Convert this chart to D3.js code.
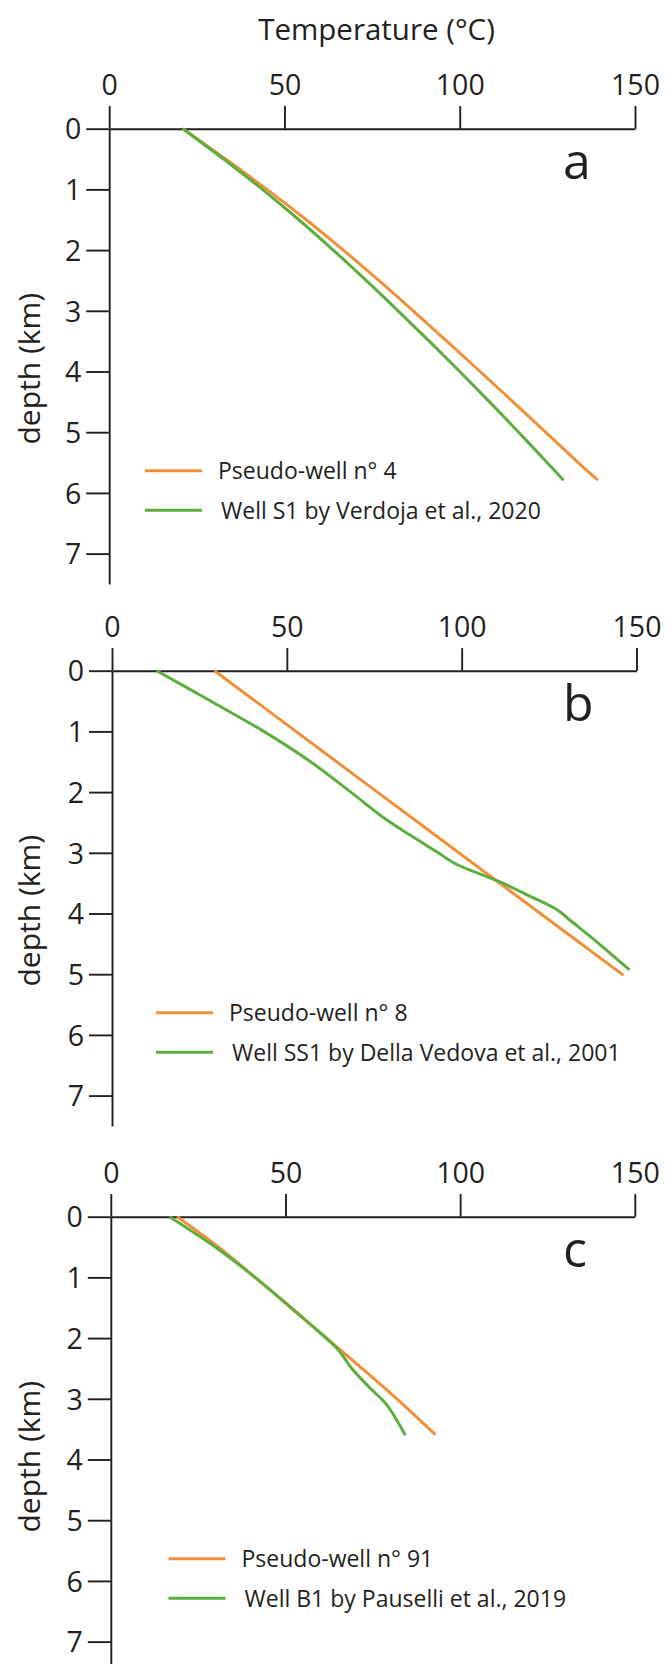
<!DOCTYPE html>
<html>
<head>
<meta charset="utf-8">
<script src="https://cdn.jsdelivr.net/npm/d3@7"></script>
<style>
  html, body { margin: 0; padding: 0; background: #fff; }
  svg { display: block; }
  text { font-family: "Open Sans", "Noto Sans", sans-serif; fill: #231f20; }
</style>
</head>
<body>
<svg id="chart" width="666" height="1664"></svg>
<script>
// ---- data: [depth (km), temperature (°C)] ----
const tempTicks = [0, 50, 100, 150];
const depthTicks = [0, 1, 2, 3, 4, 5, 6, 7];

const pseudoWell4 = [[0,21],[0.5,33.2],[1,45],[1.5,56.2],[2,66.8],[2.5,76.9],[3,86.7],[3.5,96.3],[4,105.8],[4.5,115.2],[5,124.5],[5.5,133.8],[5.79,139.4]];
const wellS1 = [[0,21],[0.5,32.6],[1,43.7],[1.5,54.1],[2,63.9],[2.5,73.3],[3,82.4],[3.5,91.3],[4,100],[4.5,108.5],[5,116.8],[5.5,124.9],[5.79,129.6]];

const pseudoWell8 = [[0,29.3],[1,52.6],[2,75.9],[3,99.2],[4,122.5],[5.02,146.3]];
const wellSS1 = [[0,12.8],[0.5,28.2],[1,43.4],[1.5,56.8],[2,68.3],[2.41,77.4],[2.7,85],[3,93.3],[3.18,98.2],[3.48,111],[3.7,119],[3.95,127.6],[4.12,131.2],[4.5,139.3],[4.93,148]];

const pseudoWell91 = [[0,19],[0.5,30.8],[1,41.3],[1.5,51.6],[2,61.8],[2.5,71.9],[3,81.9],[3.59,92.9]];
const wellB1 = [[0,16.8],[0.5,29.9],[1,41.3],[1.5,51.6],[2,61.6],[2.2,65.2],[2.5,69],[2.8,73.8],[3.1,79],[3.6,84.3]];

const labelsA = ["Pseudo-well n° 4", "Well S1 by Verdoja et al., 2020"];
const labelsB = ["Pseudo-well n° 8", "Well SS1 by Della Vedova et al., 2001"];
const labelsC = ["Pseudo-well n° 91", "Well B1 by Pauselli et al., 2019"];

// ---- styles / layout ----
const ORANGE = "#F0913A";
const GREEN = "#5DAE3F";
const INK = "#231f20";

const panels = [
  { letter: "a", x0: 109.2, x1: 635.0, y0: 128.7, legendX: 145, series: [pseudoWell4, wellS1], labels: labelsA },
  { letter: "b", x0: 112.0, x1: 636.5, y0: 670.7, legendX: 156, series: [pseudoWell8, wellSS1], labels: labelsB },
  { letter: "c", x0: 110.8, x1: 634.8, y0: 1216.7, legendX: 168.5, series: [pseudoWell91, wellB1], labels: labelsC }
];
const colors = [ORANGE, GREEN];
const pxPerKm = 60.7;

const svg = d3.select("#chart");

svg.append("text")
  .attr("x", 376.5).attr("y", 40)
  .attr("text-anchor", "middle")
  .style("font-size", "29.5px")
  .text("Temperature (°C)");

panels.forEach(p => {
  const x = d3.scaleLinear().domain([0, 150]).range([p.x0, p.x1]);
  const y = d3.scaleLinear().domain([0, 7.5]).range([p.y0, p.y0 + 7.5 * pxPerKm]);
  const g = svg.append("g");

  // x axis (top)
  const xa = g.append("g").attr("transform", `translate(0,${p.y0})`)
    .call(d3.axisTop(x).tickValues(tempTicks).tickFormat(d3.format("d"))
      .tickSize(22.6).tickSizeOuter(0).tickPadding(11.5));
  // y axis (left)
  const ya = g.append("g").attr("transform", `translate(${p.x0},0)`)
    .call(d3.axisLeft(y).tickValues(depthTicks).tickFormat(d3.format("d"))
      .tickSize(23).tickSizeOuter(0).tickPadding(5));

  [xa, ya].forEach(a => {
    a.selectAll("path, line").attr("stroke", INK).attr("stroke-width", 1.9);
    a.selectAll("text").attr("fill", INK)
      .style("font-size", "28.5px")
      .style("font-family", '"Open Sans", "Noto Sans", sans-serif');
  });
  ya.selectAll("text").attr("dy", "0.36em");

  // y axis title
  g.append("text")
    .attr("transform", `translate(40,${p.y0 + 240}) rotate(-90)`)
    .attr("text-anchor", "middle")
    .style("font-size", "30px")
    .text("depth (km)");

  // panel letter
  g.append("text")
    .attr("x", 563).attr("y", p.y0 + 50)
    .style("font-size", "50px")
    .text(p.letter);

  // curves
  const line = d3.line()
    .x(d => x(d[1]))
    .y(d => y(d[0]))
    .curve(d3.curveCatmullRom.alpha(0.5));
  p.series.forEach((s, i) => {
    g.append("path")
      .datum(s)
      .attr("d", line)
      .attr("fill", "none")
      .attr("stroke", colors[i])
      .attr("stroke-width", 3)
      .attr("stroke-linecap", "butt");
  });

  // legend
  const legY = [p.y0 + 342, p.y0 + 381.5];
  const textOff = [16, 19];
  p.labels.forEach((lab, i) => {
    g.append("line")
      .attr("x1", p.legendX).attr("x2", p.legendX + 57)
      .attr("y1", legY[i]).attr("y2", legY[i])
      .attr("stroke", colors[i]).attr("stroke-width", 3);
    g.append("text")
      .attr("x", p.legendX + 57 + textOff[i])
      .attr("y", legY[i] + 8.7)
      .style("font-size", "23px")
      .text(lab);
  });
});
</script>
</body>
</html>
